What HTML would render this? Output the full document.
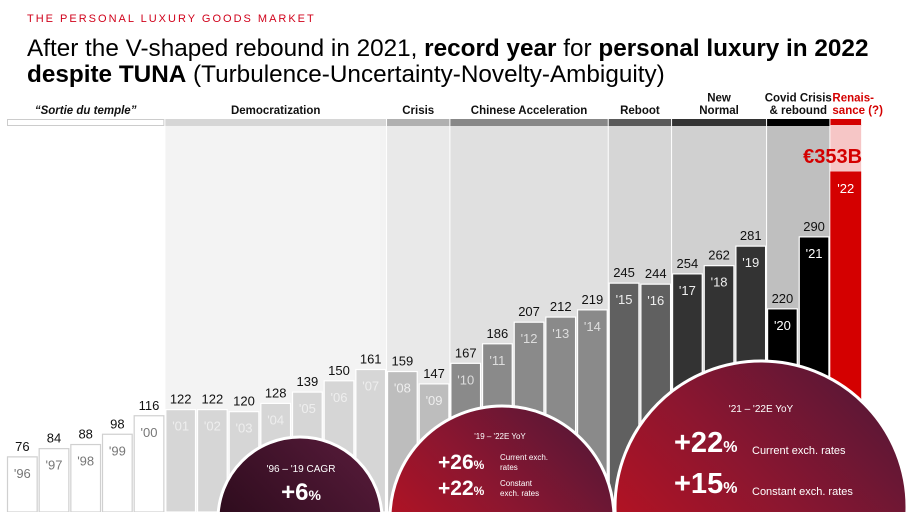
<!DOCTYPE html>
<html><head><meta charset="utf-8">
<style>
body{margin:0;width:908px;height:512px;overflow:hidden;background:#fff;font-family:"Liberation Sans",Arial,sans-serif}
svg text{font-family:"Liberation Sans",Arial,sans-serif}
</style></head>
<body>
<svg id="c" width="908" height="512" viewBox="0 0 908 512">
<defs>
<linearGradient id="gRed" x1="0" y1="1" x2="1" y2="0">
<stop offset="0" stop-color="#d0101a"/><stop offset="0.55" stop-color="#8a1630"/><stop offset="1" stop-color="#4a1838"/></linearGradient>
<linearGradient id="gDark" x1="0" y1="1" x2="1" y2="0">
<stop offset="0" stop-color="#1e0612"/><stop offset="1" stop-color="#5a1c3c"/></linearGradient>
<clipPath id="frame"><rect x="0" y="0" width="908" height="512"/></clipPath>
</defs>
<text x="27" y="22" font-size="11" fill="#d0021b" letter-spacing="2">THE PERSONAL LUXURY GOODS MARKET</text>
<text x="27" y="56" font-size="24.3" fill="#000">After the V-shaped rebound in 2021, <tspan font-weight="bold">record year</tspan> for <tspan font-weight="bold">personal luxury in 2022</tspan></text>
<text x="27" y="82" font-size="24.3" fill="#000"><tspan font-weight="bold">despite TUNA</tspan> (Turbulence-Uncertainty-Novelty-Ambiguity)</text>
<g clip-path="url(#frame)">
<g id="eras"></g>
<g id="bars"></g>
<g id="circles"></g>
</g>
</svg>
<script>
const years=["'96","'97","'98","'99","'00","'01","'02","'03","'04","'05","'06","'07","'08","'09","'10","'11","'12","'13","'14","'15","'16","'17","'18","'19","'20","'21","'22"];
const values=[76,84,88,98,116,122,122,120,128,139,150,161,159,147,167,186,207,212,219,245,244,254,262,281,220,290,353];
const eraNames=["\u201cSortie du temple\u201d","Democratization","Crisis","Chinese Acceleration","Reboot","New|Normal","Covid Crisis|& rebound","Renais-|sance (?)"];
const eraStart=[0,5,12,14,19,21,24,26];
const eraEnd=[4,11,13,18,20,23,25,26];
const ns="http://www.w3.org/2000/svg";
const x0=7,step=31.67;
function xs(i){return x0+i*step;}
function ys(v){return 535-v*1.028;}
function mk(t,a,p){const e=document.createElementNS(ns,t);for(const k in a)e.setAttribute(k,a[k]);p.appendChild(e);return e;}
const panelFill=["#fff","#f3f3f3","#e9e9e9","#e0e0e0","#d6d6d6","#d0d0d0","#bfbfbf","#f6c6c6"];
const bandFill=["#fff","#d6d6d6","#b0b0b0","#888","#5a5a5a","#333","#000","#d40000"];
const barFill=["#fff","#d6d6d6","#bdbdbd","#8a8a8a","#606060","#333","#000","#d40000"];
const barStroke=["#d0d0d0","#fff","#fff","#fff","#fff","#fff","#fff","#d40000"];
const yrFill=["#777","#eee","#eee","#ddd","#eee","#eee","#fff","#fff"];
const eg=document.getElementById('eras'),bg=document.getElementById('bars'),cg=document.getElementById('circles');
const eraOf=[];
eraNames.forEach((n,k)=>{
  const l=xs(eraStart[k]),r=xs(eraEnd[k]+1)-1;
  for(let i=eraStart[k];i<=eraEnd[k];i++)eraOf[i]=k;
  if(k>0){const p=mk('rect',{x:l,y:125,width:r-l,height:387,fill:panelFill[k]},eg);
  
  }
  const b=mk('rect',{x:l+0.5,y:119.5,width:r-l-1,height:6,fill:bandFill[k],stroke:k==0?'#ccc':bandFill[k]},eg);
  
  
  const parts=n.split('|');
  parts.forEach((s,j)=>{
    const t=mk('text',{x:k==7?l+2:(l+r)/2,y:114-(parts.length-1-j)*12.5,'font-size':11.5,'font-weight':'bold','font-style':k==0?'italic':'normal','text-anchor':k==7?'start':'middle',fill:k==7?'#d40000':'#111'},eg);
    t.textContent=s;
    
    
  });
});
values.forEach((v,i)=>{
  const k=eraOf[i],x=xs(i),w=step-1,y=ys(v);
  if(i==26){
    const p=mk('rect',{x:x,y:125,width:w,height:y-125,fill:'#f6c6c6'},bg);
    
    
  }
  const r=mk('rect',{x:x+0.5,y:y,width:w-1,height:512-y,fill:barFill[k],stroke:barStroke[k],'stroke-width':1.2},bg);
  
  
  const yl=mk('text',{x:x+w/2,y:y+21,'font-size':13,'text-anchor':'middle',fill:yrFill[k]},bg);
  yl.textContent=years[i];
  
  
  const vl=mk('text',{x:i==26?x+w+1:x+w/2,y:i==26?y-9:y-6,'font-size':i==26?20:13,'font-weight':i==26?'bold':'normal','text-anchor':i==26?'end':'middle',fill:i==26?'#d40000':'#111'},bg);
  vl.textContent=i==26?'\u20ac'+v+'B':v;
  
  
});
function circ(cx,cy,r,fill,name){const c=mk('circle',{cx:cx,cy:cy,r:r,fill:fill,stroke:'#fff','stroke-width':3},cg);}
function txt(x,y,s,sz,bold,anchor,name){const t=mk('text',{x:x,y:y,'font-size':sz,'font-weight':bold?'bold':'normal','text-anchor':anchor||'start',fill:'#fff'},cg);t.innerHTML=s;}
circ(300,519,82,'url(#gDark)','cagr-circle');
txt(301,472,"'96 – '19 CAGR",10,false,'middle','cagr-title');
txt(301,500,"+6<tspan font-size='14'>%</tspan>",24,true,'middle','cagr-value');
circ(502,518,112,'url(#gRed)','yoy-19-22-circle');
txt(500,439,"'19 – '22E  YoY",8,false,'middle','yoy-19-22-title');
txt(438,469,"+26<tspan font-size='12'>%</tspan>",21,true,'start','yoy-19-22-current');
txt(500,460,"Current exch.",8,false,'start','current-label');
txt(500,470,"rates",8,false,'start','current-label-2');
txt(438,495,"+22<tspan font-size='12'>%</tspan>",21,true,'start','yoy-19-22-constant');
txt(500,486,"Constant",8,false,'start','constant-label');
txt(500,496,"exch. rates",8,false,'start','constant-label-2');
circ(761,507,146,'url(#gRed)','yoy-21-22-circle');
txt(761,412,"'21 – '22E  YoY",10,false,'middle','yoy-21-22-title');
txt(674,452,"+22<tspan font-size='16'>%</tspan>",29,true,'start','yoy-21-22-current');
txt(752,454,"Current exch. rates",11,false,'start','current-rates-label');
txt(674,493,"+15<tspan font-size='16'>%</tspan>",29,true,'start','yoy-21-22-constant');
txt(752,495,"Constant exch. rates",11,false,'start','constant-rates-label');
</script>
</body></html>
